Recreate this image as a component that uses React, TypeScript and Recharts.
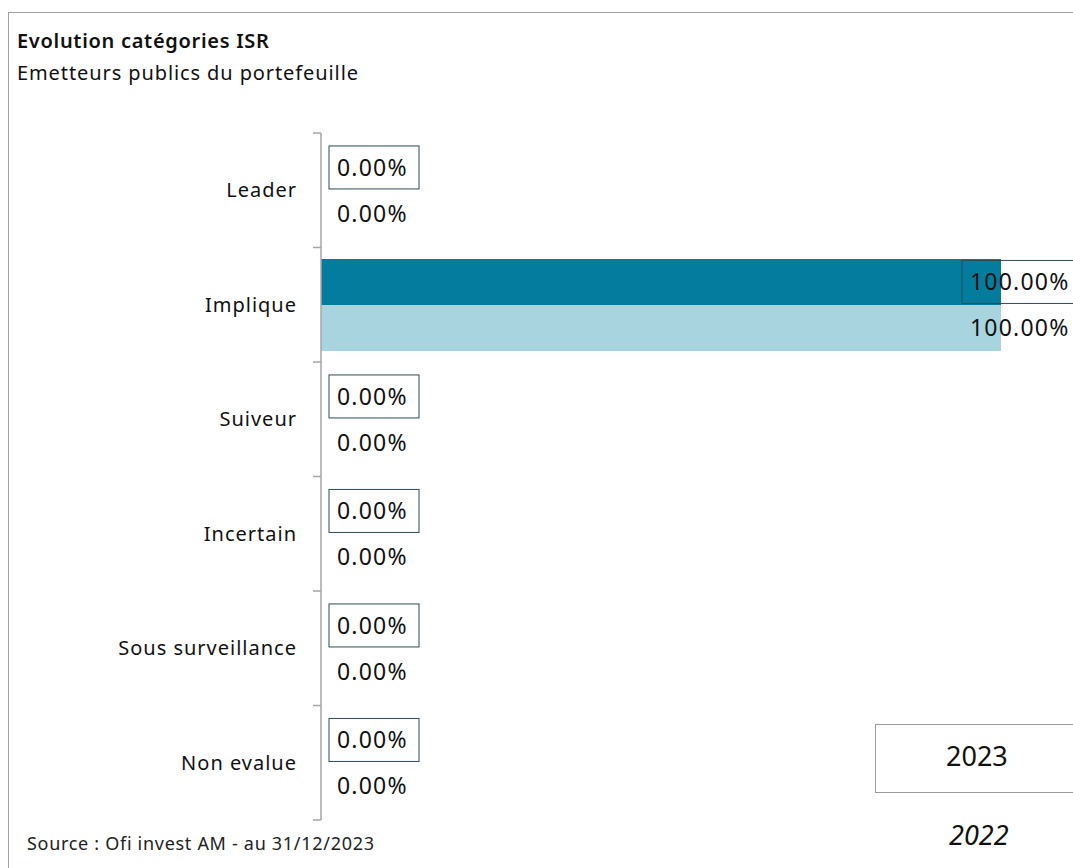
import { Bar, BarChart, LabelList, Legend, XAxis, YAxis } from "recharts";

const categories = ["Leader", "Implique", "Suiveur", "Incertain", "Sous surveillance", "Non evalue"];
const values2023 = [0, 1, 0, 0, 0, 0];
const values2022 = [0, 1, 0, 0, 0, 0];
const seriesNames = ["2023", "2022"];

const W = 1073;
const H = 868;
const M = { top: 133, right: 72, bottom: 48, left: 0 };
const AXIS_W = 321;
const BAND = (H - M.top - M.bottom) / categories.length;
const FONT = "'Noto Sans', sans-serif";

const data = categories.map((name, i) => ({
  name,
  y2023: values2023[i],
  y2022: values2022[i],
}));

const fmt = (v: number) => (v * 100).toFixed(2) + "%";

function CatTick(props: any) {
  const { x, y, payload, index } = props;
  const ax = x + 24;
  const top = y - BAND / 2;
  return (
    <g>
      <line x1={ax - 8} x2={ax} y1={top} y2={top} stroke="#a6a6a6" strokeWidth={1.5} />
      {index === categories.length - 1 && (
        <line x1={ax - 8} x2={ax} y1={y + BAND / 2} y2={y + BAND / 2} stroke="#a6a6a6" strokeWidth={1.5} />
      )}
      <text x={x} y={y} dy="0.35em" textAnchor="end" fontSize={20} letterSpacing={1} fill="#111" fontFamily={FONT}>
        {payload.value}
      </text>
    </g>
  );
}

// labels sit just past the bar end, pushed back in when they'd run off the right edge
function boxX(x: number, width: number) {
  return Math.min(x + width + 8, W - 111);
}

function BoxedLabel(props: any) {
  const { x, y, width, height, value } = props;
  const text = fmt(value);
  const bx = boxX(x, width);
  const bw = text.length * 13 + 25;
  return (
    <g>
      <rect x={bx} y={y + 1.5} width={bw} height={height - 3} fill="none" stroke="#2d4b58" strokeWidth={1} />
      <text x={bx + 8} y={y + height / 2} dy="0.36em" fontSize={23} letterSpacing={1.2} fill="#111" fontFamily={FONT}>
        {text}
      </text>
    </g>
  );
}

function PlainLabel(props: any) {
  const { x, y, width, height, value } = props;
  const bx = boxX(x, width);
  return (
    <text x={bx + 8} y={y + height / 2} dy="0.36em" fontSize={23} letterSpacing={1.2} fill="#111" fontFamily={FONT}>
      {fmt(value)}
    </text>
  );
}

function LegendBox() {
  return (
    <div style={{ fontFamily: FONT, color: "#111" }}>
      <div
        style={{
          width: 210,
          height: 69,
          border: "1px solid #9a9a9a",
          display: "flex",
          alignItems: "center",
          paddingLeft: 70,
          paddingBottom: 6,
          boxSizing: "border-box",
          fontSize: 27,
        }}
      >
        {seriesNames[0]}
      </div>
      <div style={{ marginTop: 26, paddingLeft: 74, fontSize: 27, fontStyle: "italic", lineHeight: "32px" }}>
        {seriesNames[1]}
      </div>
    </div>
  );
}

export default function App() {
  return (
    <div style={{ position: "absolute", left: 0, top: 0, width: W, height: H, overflow: "hidden", background: "#fff" }}>
      <div
        style={{
          position: "absolute",
          left: 8,
          top: 12,
          width: W,
          height: H,
          borderTop: "1.5px solid #a0a0a0",
          borderLeft: "1.5px solid #a0a0a0",
        }}
      />
      <div
        style={{
          position: "absolute",
          left: 17,
          top: 27,
          fontFamily: FONT,
          fontSize: 20,
          fontWeight: 600,
          letterSpacing: 0.7,
          color: "#111",
        }}
      >
        Evolution catégories ISR
      </div>
      <div style={{ position: "absolute", left: 17, top: 59, fontFamily: FONT, fontSize: 20, letterSpacing: 0.9, color: "#111" }}>
        Emetteurs publics du portefeuille
      </div>
      <div style={{ position: "absolute", left: 0, top: 0 }}>
        <BarChart
          width={W}
          height={H}
          data={data}
          layout="vertical"
          margin={M}
          barCategoryGap="10%"
          barGap={0}
          style={{ overflow: "hidden" }}
        >
          <XAxis type="number" domain={[0, 1]} hide />
          <YAxis
            type="category"
            dataKey="name"
            width={AXIS_W}
            axisLine={{ stroke: "#a6a6a6", strokeWidth: 1.5 }}
            tickLine={false}
            tickSize={0}
            tickMargin={24}
            tick={<CatTick />}
            interval={0}
          />
          <Legend
            verticalAlign="bottom"
            content={() => <LegendBox />}
            wrapperStyle={{ position: "absolute", left: 875, top: 724, width: 220, height: 0, overflow: "visible", bottom: "auto" }}
          />
          <Bar dataKey="y2023" name={seriesNames[0]} fill="#037c9e" minPointSize={0.01} isAnimationActive={false}>
            <LabelList dataKey="y2023" content={<BoxedLabel />} />
          </Bar>
          <Bar dataKey="y2022" name={seriesNames[1]} fill="#a8d4df" minPointSize={0.01} isAnimationActive={false}>
            <LabelList dataKey="y2022" content={<PlainLabel />} />
          </Bar>
        </BarChart>
      </div>
      <div style={{ position: "absolute", left: 27, top: 831, fontFamily: FONT, fontSize: 18, letterSpacing: 0.7, color: "#222" }}>
        Source : Ofi invest AM - au 31/12/2023
      </div>
    </div>
  );
}
